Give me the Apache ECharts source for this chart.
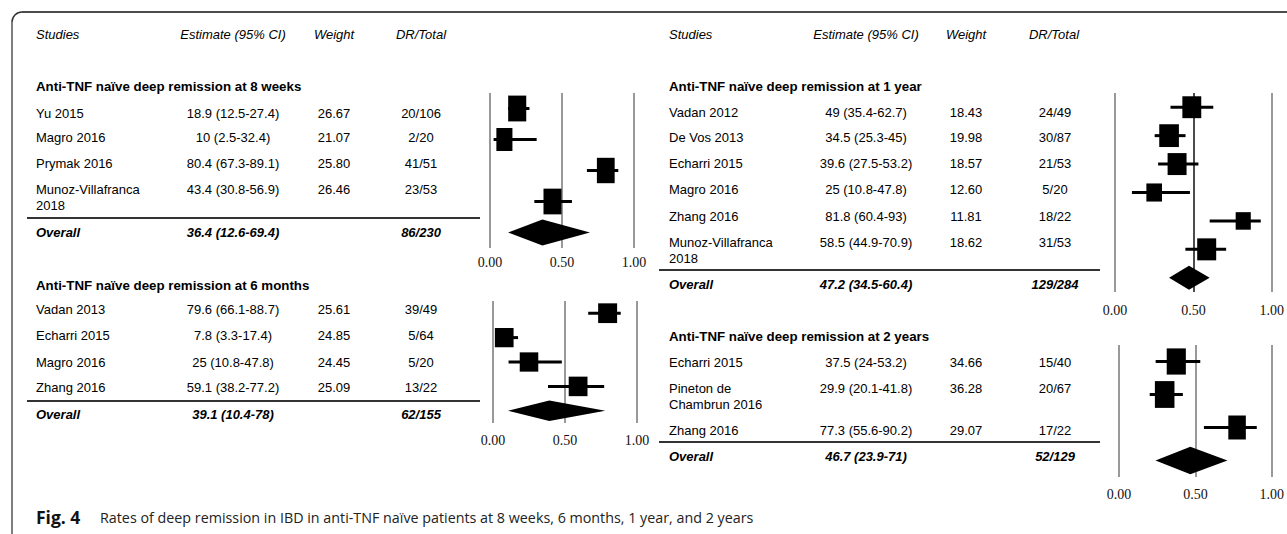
<!DOCTYPE html>
<html>
<head>
<meta charset="utf-8">
<script src="https://cdn.jsdelivr.net/npm/echarts@6/dist/echarts.min.js"></script>
<style>
  html, body { margin: 0; padding: 0; background: #fff; }
  #chart { width: 1287px; height: 534px; }
</style>
</head>
<body>
<div id="chart"></div>
<script>
// Deep remission rates (%) in anti-TNF naïve patients, with 95% CI, weights and DR/Total counts

// 8 weeks
const studies8w = ['Yu 2015', 'Magro 2016', 'Prymak 2016', 'Munoz-Villafranca\n2018'];
const est8w = [18.9, 10, 80.4, 43.4];
const low8w = [12.5, 2.5, 67.3, 30.8];
const high8w = [27.4, 32.4, 89.1, 56.9];
const weight8w = [26.67, 21.07, 25.80, 26.46];
const dr8w = ['20/106', '2/20', '41/51', '23/53'];
const overall8w = [36.4, 12.6, 69.4];
const drOverall8w = '86/230';

// 6 months
const studies6m = ['Vadan 2013', 'Echarri 2015', 'Magro 2016', 'Zhang 2016'];
const est6m = [79.6, 7.8, 25, 59.1];
const low6m = [66.1, 3.3, 10.8, 38.2];
const high6m = [88.7, 17.4, 47.8, 77.2];
const weight6m = [25.61, 24.85, 24.45, 25.09];
const dr6m = ['39/49', '5/64', '5/20', '13/22'];
const overall6m = [39.1, 10.4, 78];
const drOverall6m = '62/155';

// 1 year
const studies1y = ['Vadan 2012', 'De Vos 2013', 'Echarri 2015', 'Magro 2016', 'Zhang 2016', 'Munoz-Villafranca\n2018'];
const est1y = [49, 34.5, 39.6, 25, 81.8, 58.5];
const low1y = [35.4, 25.3, 27.5, 10.8, 60.4, 44.9];
const high1y = [62.7, 45, 53.2, 47.8, 93, 70.9];
const weight1y = [18.43, 19.98, 18.57, 12.60, 11.81, 18.62];
const dr1y = ['24/49', '30/87', '21/53', '5/20', '18/22', '31/53'];
const overall1y = [47.2, 34.5, 60.4];
const drOverall1y = '129/284';

// 2 years
const studies2y = ['Echarri 2015', 'Pineton de\nChambrun 2016', 'Zhang 2016'];
const est2y = [37.5, 29.9, 77.3];
const low2y = [24, 20.1, 55.6];
const high2y = [53.2, 41.8, 90.2];
const weight2y = [34.66, 36.28, 29.07];
const dr2y = ['15/40', '20/67', '17/22'];
const overall2y = [46.7, 23.9, 71];
const drOverall2y = '52/129';

const axisTicks = [0, 0.5, 1];

const panels = [
  {
    title: 'Anti-TNF naïve deep remission at 8 weeks',
    studies: studies8w, est: est8w, low: low8w, high: high8w, weight: weight8w, dr: dr8w,
    overall: overall8w, drOverall: drOverall8w,
    x0: 36, cols: [233, 334, 421], titleY: 86, rowY: [113, 137, 163, 189], ruleY: 218, ruleX: [27, 480], overallY: 232,
    grid: { left: 490, top: 93, width: 144, height: 155 }, box: [3.5, 5.0], labelMargin: 7,
    splitColor: '#777'
  },
  {
    title: 'Anti-TNF naïve deep remission at 6 months',
    studies: studies6m, est: est6m, low: low6m, high: high6m, weight: weight6m, dr: dr6m,
    overall: overall6m, drOverall: drOverall6m,
    x0: 36, cols: [233, 334, 421], titleY: 285, rowY: [309, 335, 362, 387], ruleY: 401, ruleX: [27, 480], overallY: 414,
    grid: { left: 493, top: 301, width: 144, height: 122 }, box: [3.75, 3.9], labelMargin: 10,
    splitColor: '#777'
  },
  {
    title: 'Anti-TNF naïve deep remission at 1 year',
    studies: studies1y, est: est1y, low: low1y, high: high1y, weight: weight1y, dr: dr1y,
    overall: overall1y, drOverall: drOverall1y,
    x0: 669, cols: [866, 966, 1055], titleY: 86, rowY: [112, 137, 163, 189, 216, 242], ruleY: 270, ruleX: [659, 1100], overallY: 284,
    grid: { left: 1115, top: 93, width: 162, height: 199 }, box: [4.4, 5.1], labelMargin: 11,
    splitColor: ['#777', '#111', '#777']
  },
  {
    title: 'Anti-TNF naïve deep remission at 2 years',
    studies: studies2y, est: est2y, low: low2y, high: high2y, weight: weight2y, dr: dr2y,
    overall: overall2y, drOverall: drOverall2y,
    x0: 669, cols: [866, 966, 1055], titleY: 336, rowY: [362, 388, 430], ruleY: 442, ruleX: [659, 1100], overallY: 456,
    grid: { left: 1119, top: 345, width: 155, height: 132 }, box: [3.25, 4.45], labelMargin: 10,
    splitColor: '#777'
  }
];

const SANS = '"Liberation Sans", Arial, Helvetica, sans-serif';
const SERIF = '"Liberation Serif", "Times New Roman", serif';
const CAPTION = '"Open Sans", "Noto Sans", sans-serif';
const LH = 16;

function txt(x, y, text, opts) {
  opts = opts || {};
  return {
    type: 'text', x: x, y: y - LH / 2, silent: true,
    style: {
      text: text, fill: '#000',
      fontFamily: opts.family || SANS,
      fontSize: opts.size || 13,
      fontWeight: opts.weight || 'normal',
      fontStyle: opts.style || 'normal',
      align: opts.align || 'left',
      verticalAlign: 'top',
      lineHeight: opts.lineHeight || LH
    }
  };
}

const fmtEst = (e, l, h) => `${e} (${l}-${h})`;

const graphics = [];

// frame
graphics.push({ type: 'line', shape: { x1: 12, y1: 540, x2: 12, y2: 22 }, style: { stroke: '#555', lineWidth: 1.5 } });
graphics.push({ type: 'arc', shape: { cx: 22, cy: 22, r: 10, startAngle: Math.PI, endAngle: Math.PI * 1.5, clockwise: true }, style: { stroke: '#333', lineWidth: 1.5, fill: null } });
graphics.push({ type: 'line', shape: { x1: 22, y1: 12, x2: 1290, y2: 12 }, style: { stroke: '#111', lineWidth: 1.5 } });

// column headers
[[36, [233, 334, 421]], [669, [866, 966, 1054]]].forEach(([x0, c]) => {
  graphics.push(txt(x0, 34, 'Studies', { style: 'italic' }));
  graphics.push(txt(c[0], 34, 'Estimate (95% CI)', { style: 'italic', align: 'center' }));
  graphics.push(txt(c[1], 34, 'Weight', { style: 'italic', align: 'center' }));
  graphics.push(txt(c[2], 34, 'DR/Total', { style: 'italic', align: 'center' }));
});

const grids = [], xAxes = [], yAxes = [], series = [];

panels.forEach((p, i) => {
  // table text
  graphics.push(txt(p.x0, p.titleY, p.title, { weight: 'bold', size: 13.3 }));
  p.studies.forEach((s, r) => {
    const y = p.rowY[r];
    graphics.push(txt(p.x0, y, s));
    graphics.push(txt(p.cols[0], y, fmtEst(p.est[r], p.low[r], p.high[r]), { align: 'center' }));
    graphics.push(txt(p.cols[1], y, p.weight[r].toFixed(2), { align: 'center' }));
    graphics.push(txt(p.cols[2], y, p.dr[r], { align: 'center' }));
  });
  graphics.push({ type: 'line', shape: { x1: p.ruleX[0], y1: p.ruleY, x2: p.ruleX[1], y2: p.ruleY }, style: { stroke: '#333', lineWidth: 2 } });
  graphics.push(txt(p.x0, p.overallY, 'Overall', { weight: 'bold', style: 'italic' }));
  graphics.push(txt(p.cols[0], p.overallY, fmtEst(p.overall[0], p.overall[1], p.overall[2]), { weight: 'bold', style: 'italic', align: 'center' }));
  graphics.push(txt(p.cols[2], p.overallY, p.drOverall, { weight: 'bold', style: 'italic', align: 'center' }));

  // forest plot
  grids.push(Object.assign({ containLabel: false }, p.grid));
  xAxes.push({
    type: 'value', gridIndex: i, min: axisTicks[0], max: axisTicks[2], interval: axisTicks[1] - axisTicks[0],
    axisLine: { show: false }, axisTick: { show: false },
    axisLabel: { formatter: v => v.toFixed(2), fontFamily: SERIF, fontSize: 14, color: '#111', margin: p.labelMargin },
    splitLine: { show: true, lineStyle: { color: p.splitColor, width: 1.5 } }
  });
  yAxes.push({ type: 'category', gridIndex: i, inverse: true, show: false, data: p.studies.concat(['Overall']) });

  const [bw, bh] = p.box;
  series.push({
    type: 'custom', xAxisIndex: i, yAxisIndex: i,
    data: p.est.map((e, r) => [e / 100, p.low[r] / 100, p.high[r] / 100, p.weight[r], r]),
    encode: { x: 0, y: 4 },
    renderItem: (params, api) => {
      const row = api.value(4);
      const c = api.coord([api.value(0), row]);
      const l = api.coord([api.value(1), row]);
      const h = api.coord([api.value(2), row]);
      const s = Math.sqrt(api.value(3));
      const w = bw * s, ht = bh * s;
      return {
        type: 'group',
        children: [
          { type: 'line', shape: { x1: l[0], y1: c[1], x2: h[0], y2: c[1] }, style: { stroke: '#000', lineWidth: 3 } },
          { type: 'rect', shape: { x: c[0] - w / 2, y: c[1] - ht / 2, width: w, height: ht }, style: { fill: '#000' } }
        ]
      };
    }
  });
  series.push({
    type: 'custom', xAxisIndex: i, yAxisIndex: i,
    data: [[p.overall[0] / 100, p.overall[1] / 100, p.overall[2] / 100, p.studies.length]],
    encode: { x: 0, y: 3 },
    renderItem: (params, api) => {
      const row = api.value(3);
      const c = api.coord([api.value(0), row]);
      const l = api.coord([api.value(1), row]);
      const h = api.coord([api.value(2), row]);
      const hh = api.size([0, 1])[1] * 0.42;
      return {
        type: 'polygon',
        shape: { points: [[l[0], c[1]], [c[0], c[1] - hh], [h[0], c[1]], [c[0], c[1] + hh]] },
        style: { fill: '#000' }
      };
    }
  });
});

// caption
graphics.push({ type: 'text', x: 36, y: 517, silent: true, style: { text: 'Fig. 4', fill: '#111', fontFamily: CAPTION, fontSize: 17.5, fontWeight: 'bold', verticalAlign: 'middle' } });
graphics.push({ type: 'text', x: 100, y: 517, silent: true, style: { text: 'Rates of deep remission in IBD in anti-TNF naïve patients at 8 weeks, 6 months, 1 year, and 2 years', fill: '#222', fontFamily: CAPTION, fontSize: 14.3, verticalAlign: 'middle' } });

const chart = echarts.init(document.getElementById('chart'), null, { renderer: 'svg' });
chart.setOption({
  animation: false,
  backgroundColor: '#fff',
  textStyle: { color: '#000' },
  grid: grids,
  xAxis: xAxes,
  yAxis: yAxes,
  series: series,
  graphic: graphics
});
</script>
</body>
</html>
